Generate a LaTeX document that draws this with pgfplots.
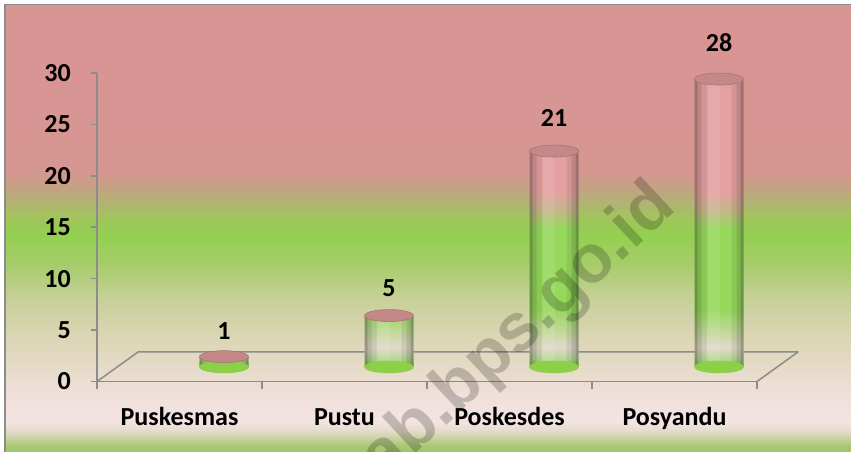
\documentclass[border=0pt]{standalone}
\usepackage{pgfplots}
\pgfplotsset{compat=1.18}
\usepackage{pgfplotstable}
\usepackage{fontspec}
\setmainfont{Carlito}
\newfontfamily\wmfont{Liberation Sans}

\definecolor{axcol}{HTML}{8C8C8C}
% background colours
\definecolor{bgA}{HTML}{A0C468}
\definecolor{bgB}{HTML}{A8C870}
\definecolor{bgC}{HTML}{C8D2A0}
\definecolor{bgD}{HTML}{E6DCCC}
\definecolor{bgE}{HTML}{F3E4E2}
\definecolor{bgF}{HTML}{F1E1DD}
\definecolor{bgG}{HTML}{EADDD0}
\definecolor{bgH}{HTML}{DCD6B6}
\definecolor{bgI}{HTML}{C8D09A}
\definecolor{bgJ}{HTML}{A8CC6C}
\definecolor{bgK}{HTML}{92D050}
\definecolor{bgL}{HTML}{A4C25E}
\definecolor{bgM}{HTML}{B4B078}
\definecolor{bgN}{HTML}{C8A084}
\definecolor{bgO}{HTML}{D69692}
\definecolor{bgP}{HTML}{D99594}
% cylinder colours
\definecolor{cyA}{HTML}{88CC48}
\definecolor{cyB}{HTML}{B8D898}
\definecolor{cyC}{HTML}{E2D8CA}
\definecolor{cyE}{HTML}{C4D89C}
\definecolor{cyF}{HTML}{96D85C}
\definecolor{cyG}{HTML}{C8B48C}
\definecolor{cyH}{HTML}{E4A0A0}
\definecolor{captop}{HTML}{C48888}
\definecolor{capedge}{HTML}{A87474}
\definecolor{capbot}{HTML}{8CD048}

\pgfdeclareverticalshading{bgshade}{100bp}{%
color(0bp)=(bgA); color(25bp)=(bgA); color(25.67bp)=(bgB); color(26.55bp)=(bgC);
color(27.45bp)=(bgD); color(28.35bp)=(bgE); color(30.8bp)=(bgF); color(33.05bp)=(bgG);
color(37.55bp)=(bgH); color(42bp)=(bgI); color(45.9bp)=(bgJ); color(49.25bp)=(bgK);
color(51.5bp)=(bgL); color(53.2bp)=(bgM); color(54.85bp)=(bgN); color(56.55bp)=(bgO);
color(75bp)=(bgP); color(100bp)=(bgP)}

\pgfdeclareverticalshading{cyl}{100bp}{%
color(0bp)=(cyA); color(25bp)=(cyA); color(26.5bp)=(cyB); color(28.5bp)=(cyC);
color(31bp)=(cyE); color(35bp)=(cyF); color(49bp)=(cyF);
color(52.5bp)=(cyG); color(55.5bp)=(cyH); color(75bp)=(cyH); color(100bp)=(cyH)}

\pgfdeclareplotmark{cylcap}{%
  \pgfpathellipse{\pgfpointorigin}{\pgfqpoint{24.5bp}{0pt}}{\pgfqpoint{0pt}{6bp}}%
  \pgfusepathqfillstroke}

\pgfplotstableread{
x v
0 1
1 5
2 21
3 28
}\datatable

\begin{document}
\begin{tikzpicture}[x=1bp,y=1bp]
\useasboundingbox (0,0) rectangle (851,452);
\fill[white] (0,0) rectangle (851,452);
\shade[shading=bgshade] (5,0) rectangle (851,447);
\draw[axcol, line width=1.5bp] (4.75,0) -- (4.75,447.25) -- (851,447.25);
% floor
\draw[axcol, line width=1.5bp, line join=round] (97,70.5) -- (138,100) -- (798,100) -- (757,70.5);
\foreach \px in {97,262,427,592,757} \draw[axcol, line width=1.5bp] (\px,70.5) -- (\px,63);

\begin{axis}[
  at={(97bp,70.5bp)}, anchor=south west,
  scale only axis, width=660bp, height=308.5bp,
  xmin=-0.5, xmax=3.5, ymin=0, ymax=30,
  axis x line*=bottom, axis y line*=left,
  axis line style={-, axcol, line width=1.5bp},
  xtick={0,1,2,3}, xticklabels={Puskesmas,Pustu,Poskesdes,Posyandu},
  xtick style={draw=none},
  ytick={0,5,...,30},
  ytick style={axcol, line width=1.5bp},
  major tick length=6bp, tick align=outside,
  ticklabel style={font=\bfseries\fontsize{26bp}{30bp}\selectfont, text=black, inner sep=0pt},
  xticklabel style={anchor=base, yshift=-38.5bp},
  yticklabel style={anchor=east, xshift=-20bp},
  /pgf/number format/assume math mode=true,
  clip=false,
]
\end{axis}

\begin{axis}[
  at={(141.5bp,85bp)}, anchor=south west,
  scale only axis, width=660bp, height=308.5bp,
  xmin=-0.5, xmax=3.5, ymin=0, ymax=30,
  hide axis, clip=false,
  /pgf/number format/assume math mode=true,
]
\addplot[only marks, mark=cylcap, mark options={fill=capbot, draw=capbot, line width=0.4bp}]
  table[x=x, y expr=0] {\datatable};
\addplot[ybar, bar width=49bp, bar shift=0pt, draw=none, shading=cyl,
  visualization depends on=rawy \as \vy,
  nodes near coords,
  nodes near coords style={font=\bfseries\fontsize{26bp}{30bp}\selectfont, text=black, inner sep=0pt, anchor=center, yshift={(25+0.4*\vy)*1bp}},
] table[x=x, y=v] {\datatable};
% cylinder edge shading strips
\addplot[ybar, bar width=3bp, bar shift=-23bp, draw=none, fill=black, fill opacity=0.30] table[x=x, y=v] {\datatable};
\addplot[ybar, bar width=4bp, bar shift=-19.5bp, draw=none, fill=black, fill opacity=0.17] table[x=x, y=v] {\datatable};
\addplot[ybar, bar width=5bp, bar shift=-15bp, draw=none, fill=black, fill opacity=0.07] table[x=x, y=v] {\datatable};
\addplot[ybar, bar width=12bp, bar shift=-5bp, draw=none, fill=white, fill opacity=0.10] table[x=x, y=v] {\datatable};
\addplot[ybar, bar width=3bp, bar shift=23bp, draw=none, fill=black, fill opacity=0.30] table[x=x, y=v] {\datatable};
\addplot[ybar, bar width=4bp, bar shift=19.5bp, draw=none, fill=black, fill opacity=0.17] table[x=x, y=v] {\datatable};
\addplot[ybar, bar width=5bp, bar shift=15bp, draw=none, fill=black, fill opacity=0.07] table[x=x, y=v] {\datatable};
\addplot[only marks, mark=cylcap, mark options={fill=captop, draw=capedge, line width=0.6bp}]
  table[x=x, y=v] {\datatable};
\end{axis}

\begin{scope}
\clip (5,0) rectangle (851,447);
\node[rotate=43, anchor=base east, inner sep=0pt, font=\wmfont\bfseries\fontsize{68bp}{70bp}\selectfont, text=black, opacity=0.2] at (678,243) {kab.bps.go.id};
\end{scope}
\end{tikzpicture}
\end{document}
